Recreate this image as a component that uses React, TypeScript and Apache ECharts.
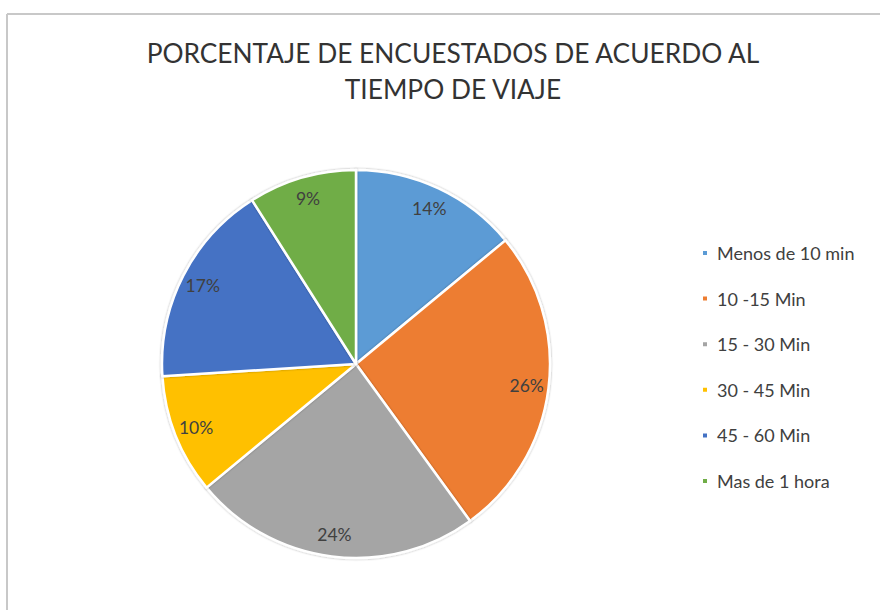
import React, { useEffect, useRef } from "react";
import * as echarts from "echarts";

const categories = ["Menos de 10 min", "10 -15 Min", "15 - 30 Min", "30 - 45 Min", "45 - 60 Min", "Mas de 1 hora"];
const values = [14, 26, 24, 10, 17, 9];
const colors = ["#5B9BD5", "#ED7D31", "#A5A5A5", "#FFC000", "#4472C4", "#70AD47"];
const titleLines = ["PORCENTAJE DE ENCUESTADOS DE ACUERDO AL", "TIEMPO DE VIAJE"];

export default function App() {
  const ref = useRef<HTMLDivElement>(null);
  useEffect(() => {
    if (!ref.current) return;
    const chart = echarts.init(ref.current, null, { renderer: "svg" });
    const font = "Lato, 'Open Sans', sans-serif";
    const data = categories.map((name, i) => ({ name, value: values[i], itemStyle: { color: colors[i] } }));
    chart.setOption({
      animation: false,
      backgroundColor: "#ffffff",
      title: {
        text: titleLines.join("\n"),
        left: 453,
        top: 35,
        padding: 0,
        textAlign: "center",
        textStyle: { fontFamily: font, fontSize: 26.3, fontWeight: "normal", color: "#333333", lineHeight: 36 },
      },
      legend: {
        orient: "vertical",
        left: 701,
        top: 243,
        padding: 0,
        itemWidth: 6,
        itemHeight: 6,
        itemGap: 25.6,
        icon: "rect",
        data: categories,
        textStyle: { fontFamily: font, fontSize: 18, color: "#404040", lineHeight: 20, padding: [0, 0, 0, 4] },
      },
      graphic: [
        { type: "line", shape: { x1: 7, y1: 14, x2: 880, y2: 14 }, style: { stroke: "#c8c8c8", lineWidth: 2 }, silent: true },
        { type: "line", shape: { x1: 7, y1: 14, x2: 7, y2: 610 }, style: { stroke: "#c8c8c8", lineWidth: 2 }, silent: true },
      ],
      series: [
        {
          type: "pie",
          center: [356, 364],
          radius: [0, 194],
          startAngle: 90,
          clockwise: true,
          silent: true,
          label: { show: false },
          labelLine: { show: false },
          itemStyle: { borderColor: "#ffffff", borderWidth: 2.5, shadowBlur: 2, shadowColor: "rgba(0,0,0,0.35)" },
          data,
        },
        {
          type: "pie",
          center: [356, 364],
          radius: [150, 188],
          startAngle: 90,
          clockwise: true,
          silent: true,
          itemStyle: { color: "rgba(0,0,0,0)" },
          label: {
            show: true,
            position: "inside",
            formatter: "{c}%",
            fontFamily: font,
            fontSize: 17.5,
            color: "#404040",
          },
          labelLine: { show: false },
          data: categories.map((name, i) => ({ name, value: values[i] })),
        },
      ],
    });
    return () => chart.dispose();
  }, []);
  return <div ref={ref} style={{ position: "fixed", left: 0, top: 0, width: 880, height: 610 }} />;
}
